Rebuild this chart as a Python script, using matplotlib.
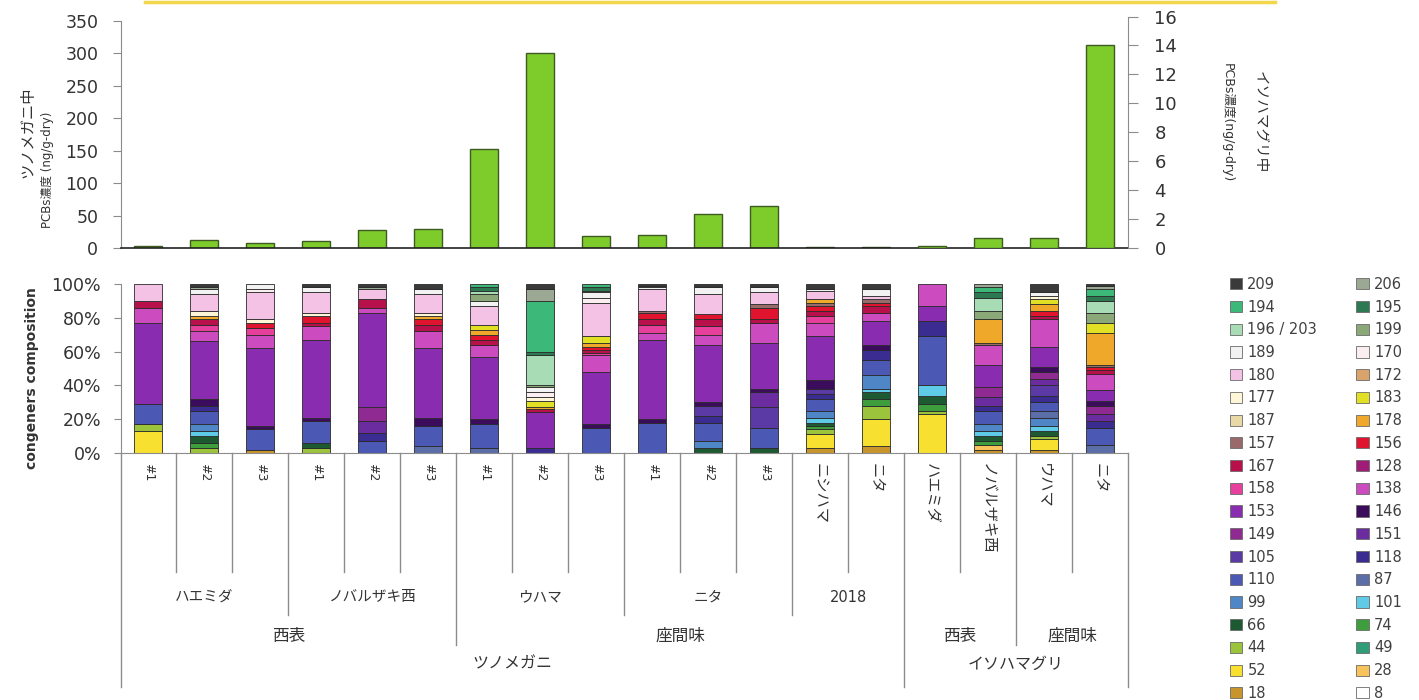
import numpy as np
import matplotlib
matplotlib.use("Agg")
import matplotlib.pyplot as plt
from matplotlib.patches import Patch
from matplotlib.lines import Line2D
from matplotlib.transforms import blended_transform_factory

# latin text in DejaVu, Japanese falls through to Noto CJK
plt.rcParams['font.family'] = ['DejaVu Sans', 'Noto Sans CJK JP']

W, H = 1419, 700

# PCB congeners, listed from the bottom of each stacked bar upwards
congeners = ["8", "18", "28", "52", "49", "44", "74", "66", "101", "99", "87",
             "110", "118", "105", "151", "149", "146", "153", "138", "158",
             "128", "167", "156", "157", "178", "187", "183", "177", "172",
             "180", "170", "189", "199", "196 / 203", "195", "194", "206", "209"]
congener_colors = ["#ffffff", "#c8952c", "#f7c35a", "#f8e030", "#2f9e78", "#9cc33c",
                   "#3e9e3e", "#1d5a32", "#5fcbe6", "#4f86c6", "#5b6ea8", "#4b58b4",
                   "#3b2c92", "#5c3aa6", "#6a2c9e", "#8e2a92", "#3c0c5c", "#8a2cb0",
                   "#cc4cc0", "#e6409c", "#a01c78", "#b8104a", "#e0142e", "#9a6a6a",
                   "#f0a82a", "#e8d9a6", "#e2e024", "#fff6d8", "#d8a46c", "#f3c2e4",
                   "#fbeef0", "#f2f2f2", "#8aa878", "#a8dcb4", "#2d7a52", "#3cb878",
                   "#9aa894", "#3a3a3a"]

sample_labels = ["#1", "#2", "#3", "#1", "#2", "#3", "#1", "#2", "#3",
                 "#1", "#2", "#3", "ニシハマ", "ニタ",
                 "ハエミダ", "ノバルザキ西", "ウハマ", "ニタ"]

# total PCBs (ng/g-dry)
tsuno_total = [3, 12, 7, 11, 27, 30, 153, 301, 19, 20, 52, 64, 2, 2]
iso_total = [0.16, 0.69, 0.69, 14.05]

# congener composition (%) of each sample
tsuno_haemida_1 = {"52": 13, "44": 4, "110": 12, "153": 48, "138": 9, "167": 4, "180": 10}
tsuno_haemida_2 = {"44": 3, "74": 3, "66": 4, "101": 3, "99": 4, "110": 8, "118": 3,
                   "146": 4, "153": 34, "138": 6, "158": 4, "167": 3, "178": 2,
                   "180": 10, "177": 3, "189": 3, "206": 1, "209": 2}
tsuno_haemida_3 = {"18": 2, "110": 12, "146": 2, "153": 46, "138": 8, "158": 4,
                   "156": 3, "180": 16, "177": 2, "170": 2, "189": 3}
tsuno_nobaru_1 = {"44": 3, "66": 3, "110": 13, "146": 2, "153": 46, "138": 8,
                  "167": 2, "156": 4, "180": 12, "177": 2, "189": 3, "209": 2}
tsuno_nobaru_2 = {"110": 7, "118": 5, "151": 7, "149": 8, "153": 56, "138": 3,
                  "167": 5, "180": 6, "206": 1, "209": 2}
tsuno_nobaru_3 = {"87": 4, "110": 12, "146": 5, "153": 41, "138": 10, "167": 4,
                  "156": 3, "178": 2, "180": 11, "177": 2, "189": 3, "209": 3}
tsuno_uhama_1 = {"87": 3, "110": 14, "146": 3, "153": 37, "138": 7, "167": 3,
                 "156": 3, "178": 3, "183": 3, "180": 11, "189": 3, "199": 4,
                 "196 / 203": 2, "195": 2, "194": 2}
tsuno_uhama_2 = {"118": 3, "153": 21, "167": 2, "178": 1, "183": 4, "177": 2,
                 "170": 3, "189": 3, "199": 1, "196 / 203": 18, "195": 2,
                 "194": 30, "206": 7, "209": 3}
tsuno_uhama_3 = {"110": 15, "146": 2, "153": 31, "138": 10, "158": 1, "167": 2,
                 "156": 2, "178": 2, "183": 4, "180": 20, "170": 3, "189": 3,
                 "199": 1, "195": 2, "194": 2}
tsuno_nita_1 = {"110": 18, "146": 2, "153": 47, "138": 4, "158": 5, "167": 3,
                "156": 4, "157": 1, "180": 13, "189": 1, "206": 1, "209": 1}
tsuno_nita_2 = {"66": 3, "99": 4, "110": 11, "118": 4, "105": 6, "146": 2,
                "153": 34, "138": 6, "158": 5, "167": 4, "156": 3, "180": 12,
                "189": 4, "209": 2}
tsuno_nita_3 = {"66": 3, "110": 12, "105": 12, "151": 9, "146": 2, "153": 27,
                "138": 12, "167": 2, "156": 7, "157": 2, "180": 7, "189": 3, "209": 2}
tsuno_2018_nishihama = {"18": 3, "52": 8, "44": 3, "74": 2, "66": 2, "101": 3,
                        "99": 4, "110": 7, "118": 3, "105": 3, "146": 5, "153": 26,
                        "138": 8, "158": 4, "167": 3, "156": 3, "157": 2, "178": 2,
                        "180": 5, "189": 1, "209": 3}
tsuno_2018_nita = {"18": 4, "52": 16, "44": 8, "74": 4, "66": 4, "101": 2, "99": 8,
                   "110": 9, "118": 6, "146": 3, "153": 14, "138": 5, "167": 4,
                   "156": 2, "157": 2, "180": 2, "189": 4, "209": 3}
iso_haemida = {"52": 23, "44": 2, "74": 4, "66": 5, "101": 6, "110": 29, "118": 9,
               "153": 9, "138": 13}
iso_nobaru = {"18": 2, "28": 3, "74": 2, "66": 3, "101": 3, "99": 4, "110": 8,
              "118": 3, "151": 5, "149": 6, "153": 13, "138": 12, "157": 1,
              "178": 14, "199": 5, "196 / 203": 8, "195": 3, "194": 3, "206": 2}
iso_uhama = {"18": 2, "52": 6, "44": 2, "66": 3, "101": 3, "99": 5, "87": 4,
             "110": 5, "118": 4, "105": 6, "151": 4, "149": 4, "146": 3, "153": 12,
             "138": 16, "167": 2, "156": 3, "178": 4, "183": 3, "177": 2,
             "189": 2, "209": 5}
iso_nita = {"87": 5, "110": 10, "118": 4, "151": 4, "149": 5, "146": 3, "153": 6,
            "138": 10, "167": 2, "156": 2, "157": 1, "178": 19, "183": 6,
            "199": 6, "196 / 203": 7, "195": 3, "194": 4, "206": 2, "209": 1}

samples = [tsuno_haemida_1, tsuno_haemida_2, tsuno_haemida_3,
           tsuno_nobaru_1, tsuno_nobaru_2, tsuno_nobaru_3,
           tsuno_uhama_1, tsuno_uhama_2, tsuno_uhama_3,
           tsuno_nita_1, tsuno_nita_2, tsuno_nita_3,
           tsuno_2018_nishihama, tsuno_2018_nita,
           iso_haemida, iso_nobaru, iso_uhama, iso_nita]

# category hierarchy below the composition chart: (label, first, last)
site_groups = [("ハエミダ", 0, 2), ("ノバルザキ西", 3, 5), ("ウハマ", 6, 8),
               ("ニタ", 9, 11), ("2018", 12, 13)]
island_groups = [("西表", 0, 5), ("座間味", 6, 13), ("西表", 14, 15), ("座間味", 16, 17)]
species_groups = [("ツノメガニ", 0, 13), ("イソハマグリ", 14, 17)]

comp = np.array([[s.get(c, 0) for c in congeners] for s in samples], dtype=float)
comp = comp / comp.sum(axis=1, keepdims=True) * 100
x = np.arange(len(samples))
n_tsuno = len(tsuno_total)


def fy(py):
    return 1 - py / H


fig = plt.figure(figsize=(W / 100, H / 100), dpi=100)
ax_left, ax_w = 120.5 / W, (1128 - 120.5) / W
text_c = "#333333"
axis_c = "#8c8c8c"

# ---- total concentration (top) ----
ax_t = fig.add_axes([ax_left, fy(248), ax_w, 227 / H])
ax_r = fig.add_axes([ax_left, fy(248), ax_w, 231.5 / H], facecolor="none")
bar_kw = dict(width=0.5, color="#7dcc2c", edgecolor="#3f5a22", linewidth=1)
ax_t.bar(x[:n_tsuno], tsuno_total, **bar_kw)
ax_r.bar(x[n_tsuno:], iso_total, **bar_kw)

ax_t.set_xlim(-0.5, len(samples) - 0.5)
ax_r.set_xlim(-0.5, len(samples) - 0.5)
ax_t.set_ylim(0, 350)
ax_t.set_yticks(np.arange(0, 351, 50))
ax_r.set_ylim(0, 16)
ax_r.set_yticks(np.arange(0, 17, 2))
for s in ["top", "right"]:
    ax_t.spines[s].set_visible(False)
for s in ["top", "left", "bottom"]:
    ax_r.spines[s].set_visible(False)
ax_t.spines["left"].set_color(axis_c)
ax_t.spines["bottom"].set_color("#222222")
ax_t.spines["bottom"].set_linewidth(1.2)
ax_r.spines["right"].set_color(axis_c)
ax_t.set_xticks([])
ax_r.set_xticks([])
ax_r.yaxis.tick_right()
ax_t.tick_params(axis="y", labelsize=12.5, colors=axis_c, labelcolor=text_c, length=6, pad=10)
ax_r.tick_params(axis="y", labelsize=13, colors=axis_c, labelcolor=text_c, length=7, pad=12)

fig.text(28 / W, fy(132), "ツノメガニ中", rotation=90, ha="center", va="center",
         fontsize=11, color=text_c)
fig.text(47 / W, fy(170), "PCBs濃度 (ng/g-dry)", rotation=90, ha="center", va="center",
         fontsize=8.5, color=text_c)
fig.text(1260 / W, fy(122), "イソハマグリ中", rotation=270, ha="center", va="center",
         fontsize=10.5, color=text_c)
fig.text(1227 / W, fy(123), "PCBs濃度(ng/g-dry)", rotation=270, ha="center", va="center",
         fontsize=9, color=text_c)

# ---- congener composition (bottom) ----
ax_b = fig.add_axes([ax_left, fy(453), ax_w, 169 / H])
bottom = np.zeros(len(samples))
for j, (name, col) in enumerate(zip(congeners, congener_colors)):
    h = comp[:, j]
    keep = h > 0
    ax_b.bar(x[keep], h[keep], bottom=bottom[keep], width=0.5, color=col,
             edgecolor="#2a2a2a", linewidth=0.6)
    bottom += h

ax_b.set_xlim(-0.5, len(samples) - 0.5)
ax_b.set_ylim(0, 100)
ax_b.set_yticks(np.arange(0, 101, 20))
ax_b.set_yticklabels([f"{v}%" for v in range(0, 101, 20)])
for s in ["top", "right"]:
    ax_b.spines[s].set_visible(False)
ax_b.spines["left"].set_color(axis_c)
ax_b.spines["bottom"].set_color(axis_c)
ax_b.set_xticks([])
ax_b.tick_params(axis="y", labelsize=12.5, colors=axis_c, labelcolor=text_c, length=5, pad=9)
fig.text(32 / W, fy(378), "congeners composition", rotation=90, ha="center", va="center",
         fontsize=10, fontweight="bold", color=text_c)

# multi-level category axis
tr = blended_transform_factory(ax_b.transData, fig.transFigure)
outer = {0, n_tsuno, len(samples)}
island_edges = {g[1] for g in island_groups} - outer
site_edges = {g[1] for g in site_groups} - outer - island_edges
for b in range(len(samples) + 1):
    if b in outer:
        end = 687
    elif b in island_edges:
        end = 645
    elif b in site_edges:
        end = 615
    else:
        end = 572
    ax_b.plot([b - 0.5, b - 0.5], [fy(453), fy(end)], transform=tr, color=axis_c,
              lw=1, clip_on=False)

for i, lab in enumerate(sample_labels):
    ax_b.text(i, fy(463), lab, transform=tr, rotation=270, ha="center", va="top",
              fontsize=9 if lab.startswith("#") else 11, color=text_c)
for lab, a, b in site_groups:
    ax_b.text((a + b) / 2, fy(597), lab, transform=tr, ha="center", va="center",
              fontsize=10.5, color=text_c)
for lab, a, b in island_groups:
    ax_b.text((a + b) / 2, fy(636), lab, transform=tr, ha="center", va="center",
              fontsize=12, color=text_c)
for lab, a, b in species_groups:
    ax_b.text((a + b) / 2, fy(664), lab, transform=tr, ha="center", va="center",
              fontsize=11.5, color=text_c)

# legend: top of the stack first, filled row by row over two columns
rev = list(range(len(congeners)))[::-1]
order = rev[0::2] + rev[1::2]
handles = [Patch(facecolor=congener_colors[k], edgecolor="#6a6a6a", linewidth=0.6)
           for k in order]
labels = [congeners[k] for k in order]
fig.legend(handles, labels, ncol=2, loc="upper left", bbox_to_anchor=(1224 / W, fy(271)),
           frameon=False, fontsize=10.5, handlelength=0.85, handleheight=0.8,
           handletextpad=0.35, labelspacing=0.53, columnspacing=2.7, borderaxespad=0,
           labelcolor="#404040")

# thin yellow rule along the top edge
fig.add_artist(Line2D([145 / W, 1275 / W], [fy(1.5), fy(1.5)], color="#f2d64b", lw=2.5))

fig.savefig("out.png", dpi=100)
